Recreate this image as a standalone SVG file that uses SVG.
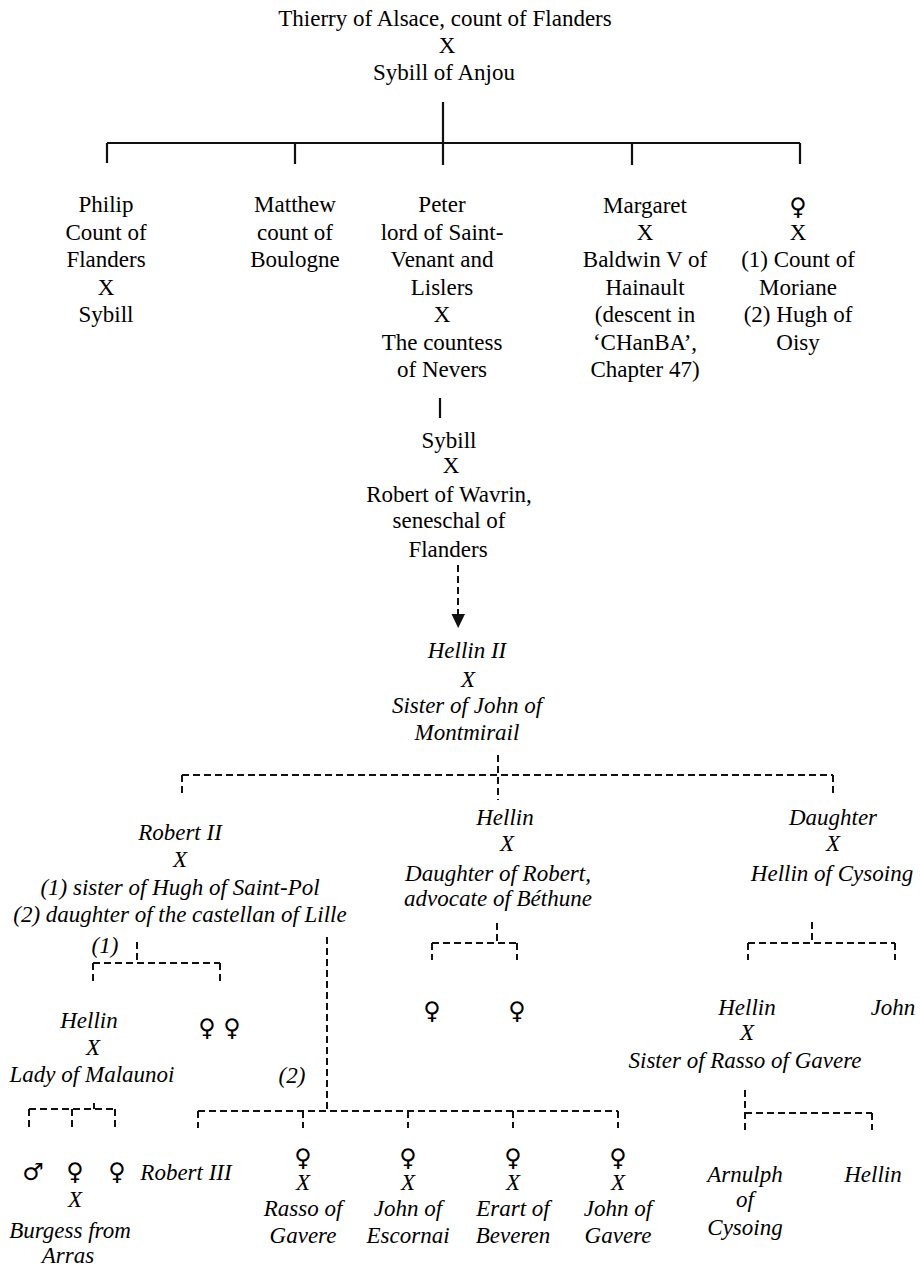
<svg xmlns="http://www.w3.org/2000/svg" width="920" height="1267" viewBox="0 0 920 1267">
  <style>
    text { font-family: "Liberation Serif", "Times New Roman", serif; font-size: 23px; fill: #000; text-anchor: middle; }
    .it { font-style: italic; }
    .sym { font-family: "DejaVu Sans", sans-serif; font-size: 24px; font-style: normal; }
    .solid { stroke: #111; stroke-width: 2.2; fill: none; }
    .dash { stroke: #111; stroke-width: 2; fill: none; stroke-dasharray: 7 4; }
  </style>
  <rect width="920" height="1267" fill="#fff"/>

  <!-- connectors -->
  <g id="connectors">
    <!-- first generation (solid) -->
    <path class="solid" d="M443,102 V143 M107,143 H800 M107,143 V163 M295,143 V164 M443,143 V165 M632,143 V165 M800,143 V164"/>
    <path class="solid" d="M440,398 V418"/>
    <!-- descent to Hellin II -->
    <path class="dash" d="M458,565 V614"/>
    <path d="M451.5,614 L465,614 L458.2,628 Z" fill="#111"/>
    <!-- children of Hellin II -->
    <path class="dash" d="M498,755 V800 M182,775 H833 M182,775 V793 M833,775 V793"/>
    <!-- Robert II, first marriage -->
    <path class="dash" d="M137,942 V963 M93,963 H220 M93,963 V981 M220,963 V981"/>
    <!-- Robert II, second marriage -->
    <path class="dash" d="M327,937 V1111 M198,1111 H618 M198,1111 V1128 M303,1111 V1128 M408,1111 V1128 M513,1111 V1128 M618,1111 V1128"/>
    <!-- Hellin x daughter of Robert -->
    <path class="dash" d="M497,923 V943 M432,943 H517 M432,943 V960 M517,943 V960"/>
    <!-- Daughter x Hellin of Cysoing -->
    <path class="dash" d="M812,922 V943 M748,943 H895 M748,943 V960 M895,943 V960"/>
    <!-- Hellin x Lady of Malaunoi -->
    <path class="dash" d="M94,1103 V1109 M29,1109 H115 M29,1109 V1127 M72,1109 V1127 M115,1109 V1127"/>
    <!-- Hellin x Sister of Rasso -->
    <path class="dash" d="M745,1090 V1130 M745,1113 H872 M872,1113 V1130"/>
  </g>

  <!-- Thierry x Sybill -->
  <g id="thierry">
    <text x="445" y="26">Thierry of Alsace, count of Flanders</text>
    <text x="447" y="53">X</text>
    <text x="444" y="80">Sybill of Anjou</text>
  </g>

  <g id="philip">
    <text x="106" y="212">Philip</text>
    <text x="106" y="240">Count of</text>
    <text x="106" y="267">Flanders</text>
    <text x="106" y="295">X</text>
    <text x="106" y="322">Sybill</text>
  </g>

  <g id="matthew">
    <text x="295" y="212">Matthew</text>
    <text x="295" y="240">count of</text>
    <text x="295" y="267">Boulogne</text>
  </g>

  <g id="peter">
    <text x="442" y="212">Peter</text>
    <text x="442" y="240">lord of Saint-</text>
    <text x="442" y="267">Venant and</text>
    <text x="442" y="295">Lislers</text>
    <text x="442" y="322">X</text>
    <text x="442" y="350">The countess</text>
    <text x="442" y="377">of Nevers</text>
  </g>

  <g id="margaret">
    <text x="645" y="213">Margaret</text>
    <text x="645" y="240">X</text>
    <text x="645" y="267">Baldwin V of</text>
    <text x="645" y="295">Hainault</text>
    <text x="645" y="322">(descent in</text>
    <text x="645" y="350">‘CHanBA’,</text>
    <text x="645" y="377">Chapter 47)</text>
  </g>

  <g id="daughter-oisy">
    <text class="sym" x="798" y="215">♀</text>
    <text x="798" y="240">X</text>
    <text x="798" y="267">(1) Count of</text>
    <text x="798" y="295">Moriane</text>
    <text x="798" y="322">(2) Hugh of</text>
    <text x="798" y="350">Oisy</text>
  </g>

  <g id="sybill-wavrin">
    <text x="449" y="448">Sybill</text>
    <text x="451" y="473">X</text>
    <text x="449" y="502">Robert of Wavrin,</text>
    <text x="449" y="528">seneschal of</text>
    <text x="448" y="557">Flanders</text>
  </g>

  <g id="hellin-ii">
    <text class="it" x="467" y="658">Hellin II</text>
    <text class="it" x="468" y="687">X</text>
    <text class="it" x="467" y="713">Sister of John of</text>
    <text class="it" x="467" y="740">Montmirail</text>
  </g>

  <g id="robert-ii">
    <text class="it" x="180" y="840">Robert II</text>
    <text class="it" x="180" y="867">X</text>
    <text class="it" x="180" y="895">(1) sister of Hugh of Saint-Pol</text>
    <text class="it" x="180" y="922">(2) daughter of the castellan of Lille</text>
    <text class="it" x="105" y="953">(1)</text>
    <text class="it" x="292" y="1083">(2)</text>
  </g>

  <g id="hellin-bethune">
    <text class="it" x="505" y="825">Hellin</text>
    <text class="it" x="507" y="851">X</text>
    <text class="it" x="498" y="881">Daughter of Robert,</text>
    <text class="it" x="498" y="906">advocate of Béthune</text>
  </g>

  <g id="daughter-cysoing">
    <text class="it" x="833" y="825">Daughter</text>
    <text class="it" x="833" y="851">X</text>
    <text class="it" x="832" y="881">Hellin of Cysoing</text>
  </g>

  <g id="bethune-daughters">
    <text class="sym" x="432" y="1019">♀</text>
    <text class="sym" x="517" y="1019">♀</text>
  </g>

  <g id="hellin-malaunoi">
    <text class="it" x="89" y="1028">Hellin</text>
    <text class="it" x="93" y="1055">X</text>
    <text class="it" x="92" y="1082">Lady of Malaunoi</text>
  </g>

  <g id="robert-ii-daughters">
    <text class="sym" x="207" y="1036">♀</text>
    <text class="sym" x="232" y="1036">♀</text>
  </g>

  <g id="hellin-rasso-sister">
    <text class="it" x="747" y="1015">Hellin</text>
    <text class="it" x="747" y="1040">X</text>
    <text class="it" x="745" y="1068">Sister of Rasso of Gavere</text>
  </g>

  <g id="john-cysoing">
    <text class="it" x="893" y="1015">John</text>
  </g>

  <g id="malaunoi-son">
    <text class="sym" x="33" y="1180">♂</text>
  </g>
  <g id="malaunoi-daughter-arras">
    <text class="sym" x="75" y="1180">♀</text>
    <text class="it" x="75" y="1207">X</text>
    <text class="it" x="70" y="1238">Burgess from</text>
    <text class="it" x="68" y="1263">Arras</text>
  </g>
  <g id="malaunoi-daughter">
    <text class="sym" x="117" y="1180">♀</text>
  </g>

  <g id="robert-iii">
    <text class="it" x="186" y="1180">Robert III</text>
  </g>

  <g id="daughter-rasso">
    <text class="sym" x="303" y="1166">♀</text>
    <text class="it" x="303" y="1190">X</text>
    <text class="it" x="303" y="1216">Rasso of</text>
    <text class="it" x="303" y="1243">Gavere</text>
  </g>
  <g id="daughter-escornai">
    <text class="sym" x="408" y="1166">♀</text>
    <text class="it" x="408" y="1190">X</text>
    <text class="it" x="408" y="1216">John of</text>
    <text class="it" x="408" y="1243">Escornai</text>
  </g>
  <g id="daughter-beveren">
    <text class="sym" x="513" y="1166">♀</text>
    <text class="it" x="513" y="1190">X</text>
    <text class="it" x="513" y="1216">Erart of</text>
    <text class="it" x="513" y="1243">Beveren</text>
  </g>
  <g id="daughter-gavere">
    <text class="sym" x="618" y="1166">♀</text>
    <text class="it" x="618" y="1190">X</text>
    <text class="it" x="618" y="1216">John of</text>
    <text class="it" x="618" y="1243">Gavere</text>
  </g>

  <g id="arnulph">
    <text class="it" x="745" y="1182">Arnulph</text>
    <text class="it" x="745" y="1207">of</text>
    <text class="it" x="745" y="1235">Cysoing</text>
  </g>
  <g id="hellin-younger">
    <text class="it" x="873" y="1182">Hellin</text>
  </g>
</svg>
